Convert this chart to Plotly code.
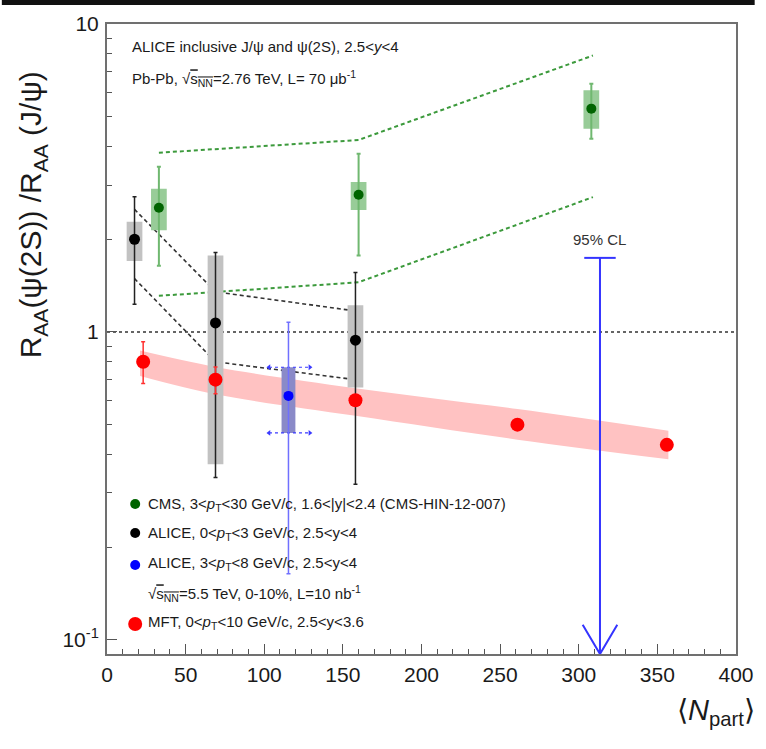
import math
import plotly.graph_objects as go

# ---- CMS, 3<pT<30 GeV/c, 1.6<|y|<2.4 ----
cms_npart = [33, 160, 308]
cms_ratio = [2.53, 2.79, 5.31]
cms_stat_hi = [3.44, 3.79, 6.40]
cms_stat_lo = [1.64, 1.77, 4.24]
cms_syst_hi = [2.92, 3.07, 6.09]
cms_syst_lo = [2.14, 2.49, 4.57]
# CMS model band (dashed green)
cms_model_npart = [33, 160, 309]
cms_model_hi = [3.82, 4.20, 7.90]
cms_model_lo = [1.31, 1.45, 2.74]

# ---- ALICE, 0<pT<3 GeV/c, 2.5<y<4 ----
alo_npart = [17.5, 69, 158]
alo_ratio = [2.00, 1.07, 0.94]
alo_stat_hi = [2.75, 1.81, 1.56]
alo_stat_lo = [1.23, 0.337, 0.32]
alo_syst_hi = [2.28, 1.77, 1.22]
alo_syst_lo = [1.70, 0.372, 0.66]
# ALICE low-pT model band (dashed black)
alo_model_npart = [17.5, 69, 158]
alo_model_hi = [2.50, 1.35, 1.17]
alo_model_lo = [1.49, 0.80, 0.70]

# ---- ALICE, 3<pT<8 GeV/c, 2.5<y<4 (0-10%) ----
ahi_npart = [115.4]
ahi_ratio = [0.62]
ahi_stat_hi = [1.075]
ahi_stat_lo = [0.164]
ahi_syst_hi = [0.768]
ahi_syst_lo = [0.47]
ahi_npart_lo = [103]
ahi_npart_hi = [129]

# ---- ALICE 95% CL upper limit ----
cl_npart = 313.5
cl_upper = 1.74

# ---- MFT projection, 0<pT<10 GeV/c, 2.5<y<3.6 ----
mft_npart = [23, 69, 158, 261, 356]
mft_ratio = [0.80, 0.70, 0.60, 0.50, 0.43]
mft_err_hi = [0.93, 0.77, None, None, None]
mft_err_lo = [0.68, 0.63, None, None, None]
mft_band_npart = [21, 69, 158, 261, 357]
mft_band_hi = [0.87, 0.77, 0.657, 0.562, 0.478]
mft_band_lo = [0.72, 0.628, 0.534, 0.447, 0.386]

X_RANGE = [0, 400]
Y_MIN, Y_MAX = 0.09, 10.0

FONT = "Liberation Sans, Arial, Helvetica, sans-serif"
TXT = "#1a1a1a"


def boxes(xc, lo, hi, half):
    xs, ys = [], []
    for x, l, h in zip(xc, lo, hi):
        xs += [x - half, x + half, x + half, x - half, x - half, None]
        ys += [l, l, h, h, l, None]
    return xs, ys


def err(ratio, hi, lo):
    up = [(h - r) if h is not None else 0 for r, h in zip(ratio, hi)]
    dn = [(r - l) if l is not None else 0 for r, l in zip(ratio, lo)]
    return up, dn


fig = go.Figure()

# MFT projection band
fig.add_trace(go.Scatter(x=mft_band_npart, y=mft_band_lo, mode="lines",
                         line=dict(width=0, shape="spline"), hoverinfo="skip"))
fig.add_trace(go.Scatter(x=mft_band_npart, y=mft_band_hi, mode="lines",
                         line=dict(width=0, shape="spline"), fill="tonexty",
                         fillcolor="#ffc2c2", hoverinfo="skip"))

# model curves
for yy in (cms_model_hi, cms_model_lo):
    fig.add_trace(go.Scatter(x=cms_model_npart, y=yy, mode="lines",
                             line=dict(color="#3c9a3c", width=2, dash="4px,3px")))
for yy in (alo_model_hi, alo_model_lo):
    fig.add_trace(go.Scatter(x=alo_model_npart, y=yy, mode="lines",
                             line=dict(color="#333333", width=1.6, dash="4px,3px")))

# unity line
fig.add_trace(go.Scatter(x=X_RANGE, y=[1, 1], mode="lines",
                         line=dict(color="#333333", width=1.6, dash="3px,3px")))

# systematic boxes
bx, by = boxes(cms_npart, cms_syst_lo, cms_syst_hi, 5)
fig.add_trace(go.Scatter(x=bx, y=by, mode="lines", fill="toself",
                         fillcolor="#98cc98", line=dict(width=0)))
bx, by = boxes(alo_npart, alo_syst_lo, alo_syst_hi, 5)
fig.add_trace(go.Scatter(x=bx, y=by, mode="lines", fill="toself",
                         fillcolor="#c2c2c2", line=dict(width=0)))
bx, by = boxes(ahi_npart, ahi_syst_lo, ahi_syst_hi, 4.4)
fig.add_trace(go.Scatter(x=bx, y=by, mode="lines", fill="toself",
                         fillcolor="#8a8ac8", line=dict(width=0)))

# centrality range of the high-pT point
for yy in (ahi_syst_hi, ahi_syst_lo):
    fig.add_trace(go.Scatter(
        x=[ahi_npart_lo[0], ahi_npart_hi[0]], y=[yy[0], yy[0]],
        mode="lines+markers",
        line=dict(color="#3a3aff", width=1.2, dash="3px,3px"),
        marker=dict(symbol=["triangle-left", "triangle-right"], size=5,
                    color="#3a3aff")))

# data points with statistical errors
up, dn = err(cms_ratio, cms_stat_hi, cms_stat_lo)
fig.add_trace(go.Scatter(
    x=cms_npart, y=cms_ratio, mode="markers",
    marker=dict(color="#006400", size=10, opacity=1),
    error_y=dict(type="data", symmetric=False, array=up, arrayminus=dn,
                 color="#70b870", thickness=2, width=2)))
up, dn = err(alo_ratio, alo_stat_hi, alo_stat_lo)
fig.add_trace(go.Scatter(
    x=alo_npart, y=alo_ratio, mode="markers",
    marker=dict(color="#000000", size=11, opacity=1),
    error_y=dict(type="data", symmetric=False, array=up, arrayminus=dn,
                 color="#222222", thickness=1.5, width=2)))
up, dn = err(ahi_ratio, ahi_stat_hi, ahi_stat_lo)
fig.add_trace(go.Scatter(
    x=ahi_npart, y=ahi_ratio, mode="markers",
    marker=dict(color="#0000ff", size=10, opacity=1),
    error_y=dict(type="data", symmetric=False, array=up, arrayminus=dn,
                 color="#7070ff", thickness=1.5, width=2)))
up, dn = err(mft_ratio, mft_err_hi, mft_err_lo)
fig.add_trace(go.Scatter(
    x=mft_npart, y=mft_ratio, mode="markers",
    marker=dict(color="#ff0000", size=14, opacity=1),
    error_y=dict(type="data", symmetric=False, array=up, arrayminus=dn,
                 color="#ff3030", thickness=1.5, width=2)))

# 95% CL upper limit arrow
CL_BLUE = "#3434ff"
fig.add_trace(go.Scatter(x=[cl_npart, cl_npart], y=[cl_upper, Y_MIN], mode="lines",
                         line=dict(color=CL_BLUE, width=2)))
fig.add_trace(go.Scatter(x=[cl_npart - 10, cl_npart + 10], y=[cl_upper, cl_upper],
                         mode="lines", line=dict(color=CL_BLUE, width=2)))
fig.add_trace(go.Scatter(x=[cl_npart - 11, cl_npart, cl_npart + 11],
                         y=[0.112, Y_MIN, 0.112], mode="lines",
                         line=dict(color=CL_BLUE, width=2)))

# legend symbols on an overlay frame
leg_y = [0.238, 0.192, 0.1413, 0.0476]
leg_c = ["#006400", "#000000", "#0000ff", "#ff0000"]
leg_s = [10, 10, 10, 14]
for yy, cc, ss in zip(leg_y, leg_c, leg_s):
    fig.add_trace(go.Scatter(x=[0.0448], y=[yy], mode="markers",
                             marker=dict(color=cc, size=ss, opacity=1,
                                         line=dict(width=0)),
                             xaxis="x2", yaxis="y2"))

fig.update_traces(showlegend=False, hoverinfo="skip")

ann = []


def paper_text(px, py, text, size=14, anchor="left", **kw):
    ann.append(dict(xref="paper", yref="paper",
                    x=(px - 107) / 640, y=(654 - py) / 630,
                    xanchor=anchor, yanchor="middle", showarrow=False,
                    text=text, font=dict(family=FONT, size=size, color=TXT), **kw))


SQRT = "√<span style='text-decoration:overline'>s<sub>NN</sub></span>"
paper_text(130, 47, "ALICE inclusive J/ψ and ψ(2S), 2.5&lt;<i>y</i>&lt;4", 15)
paper_text(130, 78, "Pb-Pb, " + SQRT + "=2.76 TeV, L= 70 μb<sup>-1</sup>", 15)

paper_text(147, 504, "CMS, 3&lt;<i>p</i><sub>T</sub>&lt;30 GeV/c, 1.6&lt;|y|&lt;2.4 (CMS-HIN-12-007)", 15)
paper_text(147, 533, "ALICE, 0&lt;<i>p</i><sub>T</sub>&lt;3 GeV/c, 2.5&lt;y&lt;4", 15)
paper_text(147, 563, "ALICE, 3&lt;<i>p</i><sub>T</sub>&lt;8 GeV/c, 2.5&lt;y&lt;4", 15)
paper_text(147, 593, SQRT + "=5.5 TeV, 0-10%, L=10 nb<sup>-1</sup>", 15)
paper_text(147, 622, "MFT, 0&lt;<i>p</i><sub>T</sub>&lt;10 GeV/c, 2.5&lt;y&lt;3.6", 15)

# axis titles
paper_text(31, 215, "R<sub>AA</sub>(ψ(2S)) /R<sub>AA</sub> (J/ψ)", 30,
           anchor="center", textangle=-90)
paper_text(727, 712, "⟨<i>N</i><sub>part</sub>⟩", 29, anchor="center")

ann.append(dict(x=cl_npart, y=math.log10(cl_upper), xref="x", yref="y",
                yshift=18, showarrow=False, text="95% CL",
                font=dict(family=FONT, size=15, color="#333333")))

minor_y = [v * 10 ** e for e in (-2, -1, 0) for v in range(2, 10)]

fig.update_layout(
    width=766, height=749,
    margin=dict(l=107, r=19, t=24, b=95),
    paper_bgcolor="white", plot_bgcolor="white",
    annotations=ann,
    xaxis=dict(range=X_RANGE, dtick=50, tick0=0, ticks="inside", ticklen=10,
               tickwidth=1.2, tickcolor="#555555", showgrid=False, zeroline=False,
               showline=True, linecolor="#707070", linewidth=2, mirror=True,
               ticklabelstandoff=1,
               tickfont=dict(family=FONT, size=21, color=TXT),
               minor=dict(dtick=10, ticks="inside", ticklen=5, tickcolor="#555555",
                          showgrid=False)),
    yaxis=dict(type="log", range=[math.log10(Y_MIN), math.log10(Y_MAX)],
               tickvals=[0.1, 1, 10], ticktext=["10<sup>-1</sup>", "1", "10"],
               ticks="inside", ticklen=10, tickwidth=1.2, tickcolor="#555555",
               showgrid=False, zeroline=False, showline=True, linecolor="#707070",
               linewidth=2, mirror=True, ticklabelstandoff=2,
               tickfont=dict(family=FONT, size=21, color=TXT),
               minor=dict(tickvals=minor_y, ticks="inside", ticklen=5,
                          tickcolor="#555555", showgrid=False)),
    xaxis2=dict(overlaying="x", range=[0, 1], visible=False),
    yaxis2=dict(overlaying="y", range=[0, 1], visible=False),
    shapes=[dict(type="rect", xref="paper", yref="paper",
                 x0=-107 / 640, x1=659 / 640, y0=(654 - 5) / 630, y1=654 / 630 + 0.01,
                 fillcolor="#111111", line=dict(width=0), layer="above")],
)

fig.write_html("out.html")
